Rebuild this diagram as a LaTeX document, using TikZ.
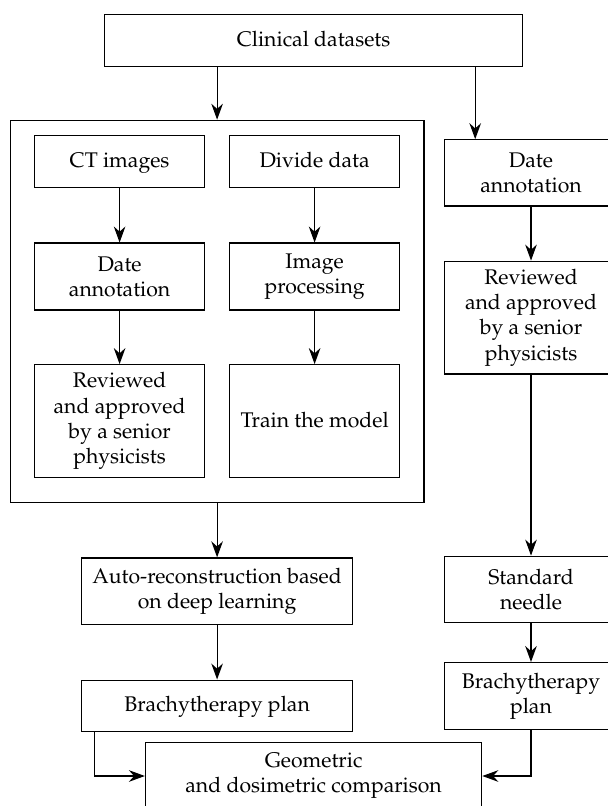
\documentclass[tikz,border=0pt]{standalone}
\usepackage[T1]{fontenc}
\usepackage{mathpazo}
\usepackage{tikz}
\usetikzlibrary{arrows.meta, positioning, fit, calc}

\begin{document}
\begin{tikzpicture}[
    node distance=27pt and 11.8pt,
    procnode/.style={rectangle, draw=black, line width=0.6pt, fill=white, minimum width=85.1pt, minimum height=25.9pt, inner sep=1pt, align=center, font=\fontsize{10.6}{12.6}\selectfont},
    oneline/.style={text height=8.6pt, text depth=2.4pt},
    arrow/.style={-{Stealth[length=8pt, width=5.8pt, inset=2.6pt]}, line width=0.6pt, draw=black}
]

\useasboundingbox (0,0) rectangle (304pt,-403pt);

\node[procnode, oneline, minimum width=208.8pt] (clinical) at (156.8pt,-20.4pt) {Clinical datasets};

% left group
\node[procnode, oneline] (ctimg) at (59.8pt,-80.9pt) {CT images};
\node[procnode, oneline, right=11.8pt of ctimg] (divide) {Divide data};
\node[procnode, below=27.1pt of ctimg, minimum height=33.5pt] (annotl) {Date\\annotation};
\node[procnode, below=27.1pt of divide, minimum height=33.5pt] (imgproc) {Image\\processing};
\node[procnode, below=26.7pt of annotl, minimum height=56.3pt] (reviewl) {Reviewed\\and approved\\by a senior\\physicists};
\node[procnode, oneline, below=26.7pt of imgproc, minimum height=56.3pt] (train) {Train the model};
\node[draw=black, line width=0.6pt, inner sep=0pt,
      fit={($(ctimg.north west)+(-11.8pt,7.5pt)$) ($(train.south east)+(11.8pt,-12.2pt)$)}] (group) {};

% right column
\node[procnode, minimum width=86.2pt, minimum height=33.1pt] (annotr) at (265.5pt,-86.45pt) {Date\\annotation};
\node[procnode, below=of annotr, minimum width=86.2pt, minimum height=56.4pt] (reviewr) {Reviewed\\and approved\\by a senior\\physicists};
\node[procnode, below=90.5pt of reviewr, minimum width=86.2pt, minimum height=33.1pt] (needle) {Standard\\needle};
\node[procnode, below=19.5pt of needle, minimum width=86.2pt, minimum height=33.5pt] (planr) {Brachytherapy\\plan};

% bottom
\node[procnode, below=27.2pt of group, minimum width=135.7pt, minimum height=33.1pt] (autorec) {Auto-reconstruction based\\on deep learning};
\node[procnode, oneline, below=27.4pt of autorec, minimum width=135.7pt, minimum height=25.5pt] (planl) {Brachytherapy plan};
\node[procnode, minimum width=168.1pt, minimum height=33.5pt] (compare) at (156.8pt,-388pt) {Geometric\\and dosimetric comparison};

\draw[arrow] (clinical.south -| group.north) -- (group.north);
\draw[arrow] ([xshift=-23.9pt]clinical.south east) -- ([xshift=-23.9pt]clinical.south east |- annotr.north);
\draw[arrow] (ctimg) -- (annotl);
\draw[arrow] (annotl) -- (reviewl);
\draw[arrow] (divide) -- (imgproc);
\draw[arrow] (imgproc) -- (train);
\draw[arrow] (annotr) -- (reviewr);
\draw[arrow] (reviewr) -- (needle);
\draw[arrow] (needle) -- (planr);
\draw[arrow] (group.south) -- (autorec);
\draw[arrow] (autorec) -- (planl);
\draw[arrow] ([xshift=6.8pt]planl.south west) |- (compare.west);
\draw[arrow] (planr.south) |- (compare.east);

\end{tikzpicture}
\end{document}
